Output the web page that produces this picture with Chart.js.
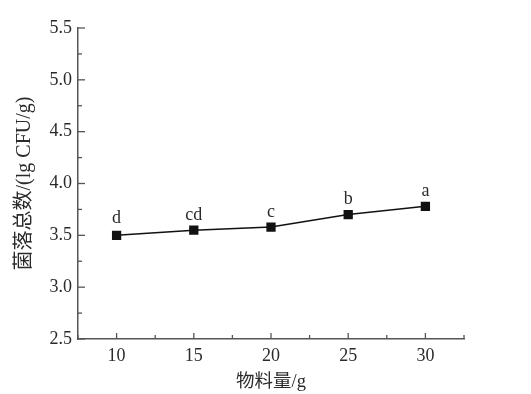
<!DOCTYPE html>
<html><head><meta charset="utf-8">
<script src="https://cdn.jsdelivr.net/npm/chart.js@4"></script>
<style>html,body{margin:0;padding:0;background:#fff;}#wrap{width:531px;height:394px;}</style>
</head><body><div id="wrap"><canvas id="c" width="531" height="394"></canvas></div>
<script>
const categories = [10, 15, 20, 25, 30];
const values = [3.50, 3.55, 3.58, 3.70, 3.78];
const errors = [0.035, 0.015, 0.012, 0.012, 0.012];
const letters = ['d', 'cd', 'c', 'b', 'a'];
const xTicks = [10, 15, 20, 25, 30];
const xMinor = [7.5, 12.5, 17.5, 22.5, 27.5, 32.5];
const yTicks = [2.5, 3.0, 3.5, 4.0, 4.5, 5.0, 5.5];
const yMinor = [2.75, 3.25, 3.75, 4.25, 4.75, 5.25];
const xTitle = '物料量/g';
const yTitle = '菌落总数/(lg CFU/g)';

const FONT = '"Liberation Serif", "Noto Sans CJK SC", serif';
const TXT = '#2a2a2a';
const AX = '#555';

const extras = {
  id: 'extras',
  afterDatasetsDraw(chart) {
    const ctx = chart.ctx, xs = chart.scales.x, ys = chart.scales.y;
    const ca = chart.chartArea;
    ctx.save();
    ctx.strokeStyle = AX; ctx.lineWidth = 1.3;
    xTicks.forEach(v => { const p = xs.getPixelForValue(v); ctx.beginPath(); ctx.moveTo(p, ca.bottom); ctx.lineTo(p, ca.bottom - 6); ctx.stroke(); });
    xMinor.forEach(v => { const p = xs.getPixelForValue(v); ctx.beginPath(); ctx.moveTo(p, ca.bottom); ctx.lineTo(p, ca.bottom - 4); ctx.stroke(); });
    yTicks.forEach(v => { const p = ys.getPixelForValue(v); ctx.beginPath(); ctx.moveTo(ca.left, p); ctx.lineTo(ca.left + 7, p); ctx.stroke(); });
    yMinor.forEach(v => { const p = ys.getPixelForValue(v); ctx.beginPath(); ctx.moveTo(ca.left, p); ctx.lineTo(ca.left + 4, p); ctx.stroke(); });
    ctx.strokeStyle = '#111'; ctx.lineWidth = 1.2;
    categories.forEach((c, i) => {
      const px = xs.getPixelForValue(c);
      const top = ys.getPixelForValue(values[i] + errors[i]);
      const bot = ys.getPixelForValue(values[i] - errors[i]);
      ctx.beginPath();
      ctx.moveTo(px, top); ctx.lineTo(px, bot);
      ctx.moveTo(px - 4, top); ctx.lineTo(px + 4, top);
      ctx.moveTo(px - 4, bot); ctx.lineTo(px + 4, bot);
      ctx.stroke();
    });
    ctx.fillStyle = TXT;
    ctx.font = '18px ' + FONT;
    ctx.textAlign = 'center'; ctx.textBaseline = 'alphabetic';
    categories.forEach((c, i) => {
      const px = xs.getPixelForValue(c);
      const py = ys.getPixelForValue(values[i] + errors[i]);
      ctx.fillText(letters[i], px, py - 9);
    });
    ctx.restore();
  }
};

new Chart(document.getElementById('c'), {
  type: 'line',
  data: {
    datasets: [{
      data: categories.map((c, i) => ({ x: c, y: values[i] })),
      borderColor: '#111', borderWidth: 1.5,
      pointStyle: 'rect', pointRadius: 5.5,
      pointBackgroundColor: '#111', pointBorderColor: '#111',
      tension: 0
    }]
  },
  options: {
    responsive: false, animation: false,
    layout: { padding: { top: 28, right: 67, left: 0, bottom: 0 } },
    plugins: { legend: { display: false }, tooltip: { enabled: false } },
    scales: {
      x: {
        type: 'linear', min: 7.5, max: 32.5,
        afterBuildTicks: s => { s.ticks = xTicks.map(v => ({ value: v })); },
        afterFit: s => { s.height = 55; },
        grid: { display: false, drawTicks: false },
        border: { display: true, color: AX, width: 1.5 },
        ticks: { padding: 6, color: TXT, font: { family: FONT, size: 18 }, maxRotation: 0 },
        title: { display: true, text: xTitle, color: TXT, font: { family: FONT, size: 18.5 }, padding: { top: 0, bottom: 1 } }
      },
      y: {
        min: 2.5, max: 5.5,
        afterBuildTicks: s => { s.ticks = yTicks.map(v => ({ value: v })); },
        afterFit: s => { s.width = 78; },
        grid: { display: false, drawTicks: false },
        border: { display: true, color: AX, width: 1.5 },
        ticks: { padding: 6, color: TXT, font: { family: FONT, size: 18 }, callback: v => Number(v).toFixed(1) },
        title: { display: true, text: yTitle, color: TXT, font: { family: FONT, size: 20 }, padding: { top: 13, bottom: 0 } }
      }
    }
  },
  plugins: [extras]
});
</script>
</body></html>
